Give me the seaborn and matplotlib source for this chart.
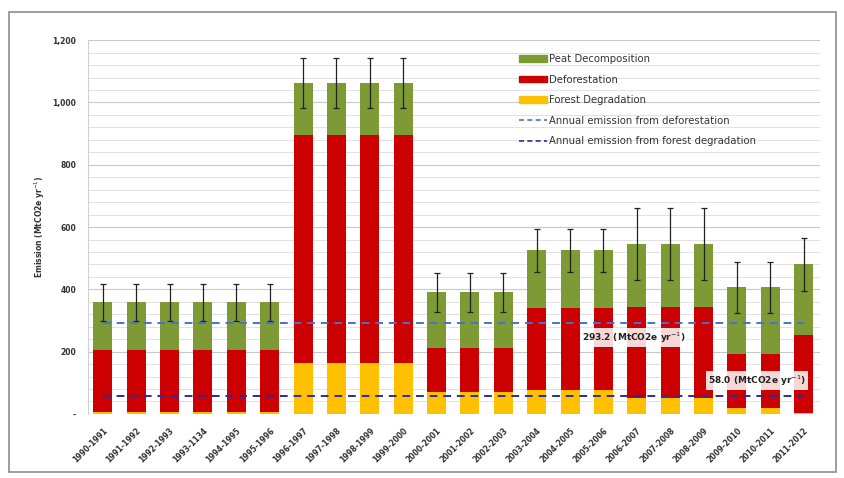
import numpy as np
import pandas as pd
import seaborn as sns
import matplotlib.pyplot as plt
from matplotlib.patches import Patch, Rectangle
from matplotlib.lines import Line2D
from matplotlib.ticker import MultipleLocator, FixedLocator

# chart values (MtCO2e per year)
years = ['1990-1991', '1991-1992', '1992-1993', '1993-1134', '1994-1995', '1995-1996',
         '1996-1997', '1997-1998', '1998-1999', '1999-2000', '2000-2001', '2001-2002',
         '2002-2003', '2003-2004', '2004-2005', '2005-2006', '2006-2007', '2007-2008',
         '2008-2009', '2009-2010', '2010-2011', '2011-2012']
degradation = [5, 5, 5, 5, 5, 5, 163, 163, 163, 163, 72, 72, 72, 78, 78, 78, 52, 52, 52, 20, 20, 3]
deforestation = [200, 200, 200, 200, 200, 200, 734, 734, 734, 734, 141, 141, 141,
                 262, 262, 262, 292, 292, 292, 171, 171, 250]
peat = [153, 153, 153, 153, 153, 153, 165, 165, 165, 165, 177, 177, 177,
        185, 185, 185, 201, 201, 201, 216, 216, 227]
err = [59, 59, 59, 59, 59, 59, 80, 80, 80, 80, 64, 64, 64, 70, 70, 70, 115, 115, 115, 82, 82, 86]
avg_def = 293.2
avg_deg = 58.0

df = pd.DataFrame({'period': years, 'deg': degradation, 'def': deforestation, 'peat': peat, 'err': err})
df['def_top'] = df['deg'] + df['def']
df['total'] = df['def_top'] + df['peat']

c_peat = '#7d9a35'
c_def = '#cc0000'
c_deg = '#ffc000'
c_line1 = '#4a6fd4'
c_line2 = '#2a2aa8'

sns.set_style('white')
fig = plt.figure(figsize=(8.44, 4.78), dpi=100)
ax = fig.add_axes([0.104, 0.134, 0.868, 0.782])

# layered bars give the stacked look
sns.barplot(data=df, x='period', y='total', color=c_peat, width=0.57, saturation=1, ax=ax,
            errorbar=None, linewidth=0)
sns.barplot(data=df, x='period', y='def_top', color=c_def, width=0.57, saturation=1, ax=ax,
            errorbar=None, linewidth=0)
sns.barplot(data=df, x='period', y='deg', color=c_deg, width=0.57, saturation=1, ax=ax,
            errorbar=None, linewidth=0)

xs = np.arange(len(years))
ax.errorbar(xs, df['total'], yerr=df['err'], fmt='none', ecolor='#222222', elinewidth=0.9,
            capsize=2, capthick=0.9, zorder=5)

# average lines
ax.plot(xs, [avg_def] * len(xs), ls=(0, (4, 3)), color=c_line1, lw=1.4, zorder=6)
ax.plot(xs, [avg_deg] * len(xs), ls=(0, (4, 3)), color=c_line2, lw=1.4, zorder=6)

ax.text(15.9, 245, '%.1f (MtCO2e yr$^{-1}$)' % avg_def, fontsize=6.5, fontweight='bold', color='#222222',
        ha='center', va='center', zorder=7,
        bbox=dict(facecolor='white', edgecolor='none', alpha=0.85, pad=1.5))
ax.text(19.6, 108, '%.1f (MtCO2e yr$^{-1}$)' % avg_deg, fontsize=6.5, fontweight='bold', color='#222222',
        ha='center', va='center', zorder=7,
        bbox=dict(facecolor='white', edgecolor='none', alpha=0.85, pad=1.5))

ax.set_xlim(-0.45, 21.5)
ax.set_ylim(0, 1200)
ax.yaxis.set_major_locator(FixedLocator([0, 200, 400, 600, 800, 1000, 1200]))
ax.set_yticklabels(['-', '200', '400', '600', '800', '1,000', '1,200'])
ax.yaxis.set_minor_locator(MultipleLocator(40))
ax.grid(axis='y', which='major', color='#c8c8c8', lw=0.8)
ax.grid(axis='y', which='minor', color='#e2e2e2', lw=0.7)
ax.set_axisbelow(True)
ax.tick_params(axis='y', labelsize=5.5, colors='#333333', length=0, pad=8.5)
ax.tick_params(axis='x', labelsize=5.5, colors='#333333', length=0, pad=9)
plt.setp(ax.get_xticklabels(), rotation=45, ha='right', rotation_mode='anchor', fontweight='bold')
plt.setp(ax.get_yticklabels(), fontweight='bold')
ax.set_xlabel('')
ax.set_ylabel('Emission (MtCO2e yr$^{-1}$)', fontsize=5.5, fontweight='bold', color='#333333', labelpad=4)
for s in ['top', 'right', 'bottom']:
    ax.spines[s].set_visible(False)
ax.spines['left'].set_color('#d0d0d0')
ax.spines['left'].set_linewidth(0.8)

handles = [Patch(color=c_peat), Patch(color=c_def), Patch(color=c_deg),
           Line2D([], [], color=c_line1, ls=(0, (3, 2)), lw=1.2),
           Line2D([], [], color=c_line2, ls=(0, (3, 2)), lw=1.2)]
labels = ['Peat Decomposition', 'Deforestation', 'Forest Degradation',
          'Annual emission from deforestation', 'Annual emission from forest degradation']
leg = ax.legend(handles, labels, loc='upper left', bbox_to_anchor=(0.588, 0.963), frameon=False,
                borderpad=0, borderaxespad=0, fontsize=7.3, handlelength=2.85, handleheight=0.6,
                handletextpad=0.15, labelspacing=1.04)
for t in leg.get_texts():
    t.set_color('#333333')

# outer frame of the chart
fig.patches.append(Rectangle((9 / 844, 6 / 478), 827 / 844, 460 / 478, transform=fig.transFigure,
                             fill=False, edgecolor='#8c8c8c', lw=1.2))

fig.savefig('out.png', dpi=100)
